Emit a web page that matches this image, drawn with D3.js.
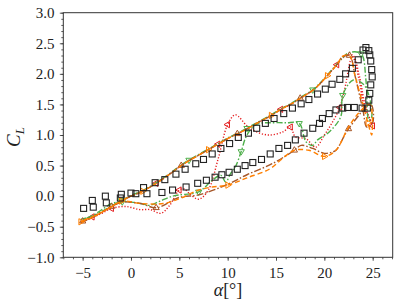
<!DOCTYPE html>
<html><head><meta charset="utf-8">
<script src="https://cdn.jsdelivr.net/npm/d3@7"></script>
<style>body{margin:0;background:#fff}svg{display:block}</style>
</head><body><svg id="c" width="399" height="305"></svg>
<script>
const xTicks=[-5,0,5,10,15,20,25];
const yTicks=[-1.0,-0.5,0.0,0.5,1.0,1.5,2.0,2.5,3.0];

const expAlpha=[-4.9,-4.0,-2.65,-1.0,0.0,1.3,2.5,3.5,4.65,5.6,6.7,7.5,8.4,9.3,10.2,11.1,12.15,13.0,13.9,14.8,15.8,16.7,17.6,18.4,19.3,20.1,20.8,21.6,22.2,22.9,23.5,24.0,24.3,24.6,24.7,24.8,24.9,24.95,24.8,24.7,24.6,24.45,
 23.9,23.1,22.4,21.9,21.2,20.5,19.8,19.5,18.8,17.9,17.0,16.2,15.3,14.4,13.5,12.6,11.8,11.0,10.15,9.4,8.7,7.8,6.9,5.7,4.3,3.2,1.65,0.5,-1.1,-2.55,-3.9];
const expCL=[-0.2,-0.07,0.0,0.03,0.05,0.14,0.22,0.27,0.36,0.44,0.53,0.6,0.69,0.78,0.86,0.96,1.03,1.11,1.19,1.27,1.35,1.44,1.51,1.58,1.67,1.75,1.83,1.91,2.0,2.09,2.23,2.39,2.43,2.38,2.31,2.21,2.07,1.95,1.82,1.68,1.57,1.44,
 1.44,1.45,1.45,1.44,1.41,1.35,1.27,1.19,1.11,1.03,0.92,0.83,0.78,0.69,0.6,0.55,0.5,0.44,0.39,0.35,0.31,0.26,0.21,0.15,0.1,0.06,0.04,0.04,-0.03,-0.11,-0.18];

const redAlpha=[-5.2,-4,-3,-2,-1,0,1.2,2.6,4,5.2,6,7,8,9,10,11,12,13,14.5,15.5,16.5,17.5,18.8,19.5,20.3,21.3,22.0,22.9,23.6,24.2,24.8,25.0,
 24.6,24.1,23.6,22.9,22.1,21.6,20.8,20.0,19.1,18.1,17.0,16.5,15.7,14.3,13.0,12.0,10.8,10.0,9.0,8.0,7.0,6.0,5.5,5.0,4.0,3.1,2.0,0.9,-0.5,-2.0,-3.0,-4.0,-5.0];
const redCL=[-0.43,-0.34,-0.26,-0.17,-0.08,0.0,0.08,0.21,0.36,0.5,0.58,0.67,0.76,0.85,0.94,1.02,1.1,1.19,1.32,1.42,1.5,1.6,1.73,1.83,1.97,2.15,2.27,2.31,1.98,1.5,1.22,1.15,
 1.3,1.46,1.9,2.28,1.75,1.45,1.2,1.0,0.8,0.94,0.97,1.13,1.05,1.0,1.05,1.15,1.33,1.17,0.6,0.1,-0.05,0.05,0.12,0.1,-0.15,-0.28,-0.22,-0.22,-0.17,-0.2,-0.28,-0.35,-0.42];

const greenAlpha=[-5.2,-4,-3,-2,-1,0,1.2,2.6,4,5.2,6,7,8,9,10,11,12,13,14.5,15.5,16.5,17.5,18.8,19.5,20.3,21.3,22.0,22.6,23.8,24.3,24.6,24.9,
 24.2,23.0,21.9,21.7,20.5,19.3,18.8,18.1,17.4,16.0,14.3,13.3,12.6,11.9,11.4,10.8,10.3,9.8,9.3,8.4,7.0,5.0,4.3,3.0,1.9,1.0,-0.9,-2.0,-3.0,-4.0,-5.0];
const greenCL=[-0.38,-0.33,-0.25,-0.16,-0.07,0.01,0.09,0.22,0.37,0.51,0.59,0.68,0.77,0.86,0.95,1.03,1.11,1.2,1.33,1.43,1.51,1.61,1.74,1.84,1.98,2.16,2.28,2.35,2.33,1.9,1.24,1.3,
 1.8,1.9,1.65,1.3,1.05,0.92,0.83,0.89,1.19,1.2,1.2,1.19,1.13,0.97,0.73,0.48,0.37,0.23,0.34,0.26,0.07,0.02,0.0,-0.08,-0.15,-0.12,-0.09,-0.12,-0.22,-0.32,-0.38];

const orangeAlpha=[-5.2,-4,-3,-2,-1,0,1.2,2.6,4,5.2,6,7,8,9,10,11,12,13,14.5,15.5,16.5,17.5,18.8,19.5,20.3,21.3,21.9,22.6,23.2,24.0,24.5,24.9,
 24.7,23.5,22.4,21.2,20.0,18.4,16.9,15.7,14.3,12.0,10.0,8.4,7.0,5.2,3.4,1.0,-1.0,-2.0,-3.0,-4.0,-5.0];
const orangeCL=[-0.42,-0.35,-0.26,-0.17,-0.08,0.0,0.08,0.21,0.36,0.5,0.58,0.67,0.76,0.85,0.94,1.02,1.1,1.19,1.32,1.42,1.5,1.6,1.73,1.83,1.97,2.15,2.29,2.3,1.95,1.5,1.2,1.0,
 1.5,1.35,1.1,0.75,0.65,0.75,0.75,0.62,0.44,0.3,0.18,0.15,0.1,-0.03,-0.12,-0.12,-0.08,-0.17,-0.26,-0.34,-0.4];

const brownAlpha=[-5.2,-4,-3,-2,-1,0,1.2,2.6,4,5.2,6,7,8,9,10,11,12,13,14.5,15.5,16.5,17.5,18.8,19.5,20.3,21.3,21.9,22.6,23.2,24.0,24.4,25.0,
 24.8,22.5,21.2,20.8,20.0,18.8,17.6,16.9,14.6,12.0,9.8,7.0,5.0,2.6,1.0,-1.0,-2.0,-3.0,-4.0,-5.0];
const brownCL=[-0.43,-0.35,-0.26,-0.17,-0.08,0.0,0.08,0.21,0.36,0.5,0.58,0.67,0.76,0.85,0.94,1.02,1.1,1.19,1.32,1.42,1.5,1.6,1.73,1.83,1.97,2.15,2.28,2.3,1.95,1.4,1.13,1.2,
 1.5,1.1,0.75,0.72,0.7,0.78,0.83,0.75,0.53,0.35,0.18,0.02,-0.02,-0.19,-0.12,-0.1,-0.17,-0.26,-0.34,-0.41];

const L=63.3,R=392.7,T=12.7,B=257.3;
const svg=d3.select('#c');
const x=d3.scaleLinear().domain([-7.0,27.07]).range([L,R]);
const y=d3.scaleLinear().domain([-1,3]).range([B,T]);
const font="'Liberation Serif','DejaVu Serif',serif";
const axc='#333';

svg.append('clipPath').attr('id','clp').append('rect').attr('x',L).attr('y',T).attr('width',R-L).attr('height',B-T);

const gx=svg.append('g').attr('transform',`translate(0,${B})`);
gx.call(d3.axisBottom(x).tickValues(d3.range(-7,28,1)).tickSize(2).tickFormat(''));
gx.append('g').call(d3.axisBottom(x).tickValues(xTicks).tickSize(3.5).tickFormat(d=>d3.format('d')(d)));
const gy=svg.append('g').attr('transform',`translate(${L},0)`);
gy.call(d3.axisLeft(y).tickValues(d3.range(-10,31,1).map(v=>v/10)).tickSize(2).tickFormat(''));
gy.append('g').call(d3.axisLeft(y).tickValues(yTicks).tickSize(3.5).tickFormat(d3.format('.1f')));
svg.selectAll('.domain').remove();
svg.selectAll('.tick line').attr('stroke',axc).attr('stroke-width',0.8);
svg.selectAll('.tick text').attr('font-family',font).attr('font-size',15).attr('fill','#222');
gx.selectAll('.tick text').attr('dy','0.95em');
gy.selectAll('.tick text').attr('dx','-0.15em');

const plot=svg.append('g').attr('clip-path','url(#clp)');
const line=d3.line().x(d=>x(d[0])).y(d=>y(d[1])).curve(d3.curveCatmullRom.alpha(0.5));

const series=[
 {a:redAlpha,c:redCL,col:'#e41a1c',dash:'1.2,1.8',mk:'left',every:6,off:1},
 {a:greenAlpha,c:greenCL,col:'#4daf4a',dash:'6,2,1.5,2',mk:'down',every:6,off:4},
 {a:brownAlpha,c:brownCL,col:'#a65628',dash:'7,2,1.5,2',mk:'up',every:6,off:3},
 {a:orangeAlpha,c:orangeCL,col:'#ff7f00',dash:'5,3',mk:'right',every:6,off:0},
];
const tri={
 up:s=>`M0,${-s}L${s*0.87},${s*0.5}L${-s*0.87},${s*0.5}Z`,
 down:s=>`M0,${s}L${s*0.87},${-s*0.5}L${-s*0.87},${-s*0.5}Z`,
 left:s=>`M${-s},0L${s*0.5},${-s*0.87}L${s*0.5},${s*0.87}Z`,
 right:s=>`M${s},0L${-s*0.5},${-s*0.87}L${-s*0.5},${s*0.87}Z`,
};
series.forEach(s=>{
 const pts=s.a.map((v,i)=>[v,s.c[i]]);
 plot.append('path').datum(pts).attr('d',line).attr('fill','none').attr('stroke',s.col).attr('stroke-width',1.4).attr('stroke-dasharray',s.dash);
 plot.selectAll(null).data(pts.filter((d,i)=>i%s.every===s.off)).enter().append('path')
  .attr('transform',d=>`translate(${x(d[0])},${y(d[1])})`).attr('d',tri[s.mk](3.6))
  .attr('fill','none').attr('stroke',s.col).attr('stroke-width',1);
});
const ex=expAlpha.map((v,i)=>[v,expCL[i]]);
plot.selectAll(null).data(ex).enter().append('rect')
 .attr('x',d=>x(d[0])-3).attr('y',d=>y(d[1])-3).attr('width',6).attr('height',6)
 .attr('fill','none').attr('stroke','#222').attr('stroke-width',1.1);

svg.append('rect').attr('x',L).attr('y',T).attr('width',R-L).attr('height',B-T).attr('fill','none').attr('stroke',axc).attr('stroke-width',1);

const yl=svg.append('text').attr('transform',`translate(20,137) rotate(-90)`).attr('text-anchor','middle')
 .attr('font-family',font).attr('font-size',19).attr('fill','#222');
yl.append('tspan').attr('font-style','italic').text('C');
yl.append('tspan').attr('font-style','italic').attr('font-size',13).attr('dy',4).text('L');
const xl=svg.append('text').attr('x',228).attr('y',296).attr('text-anchor','middle')
 .attr('font-family',font).attr('font-size',18).attr('fill','#222');
xl.append('tspan').attr('font-style','italic').text('α');
xl.append('tspan').text('[°]');
</script></body></html>
